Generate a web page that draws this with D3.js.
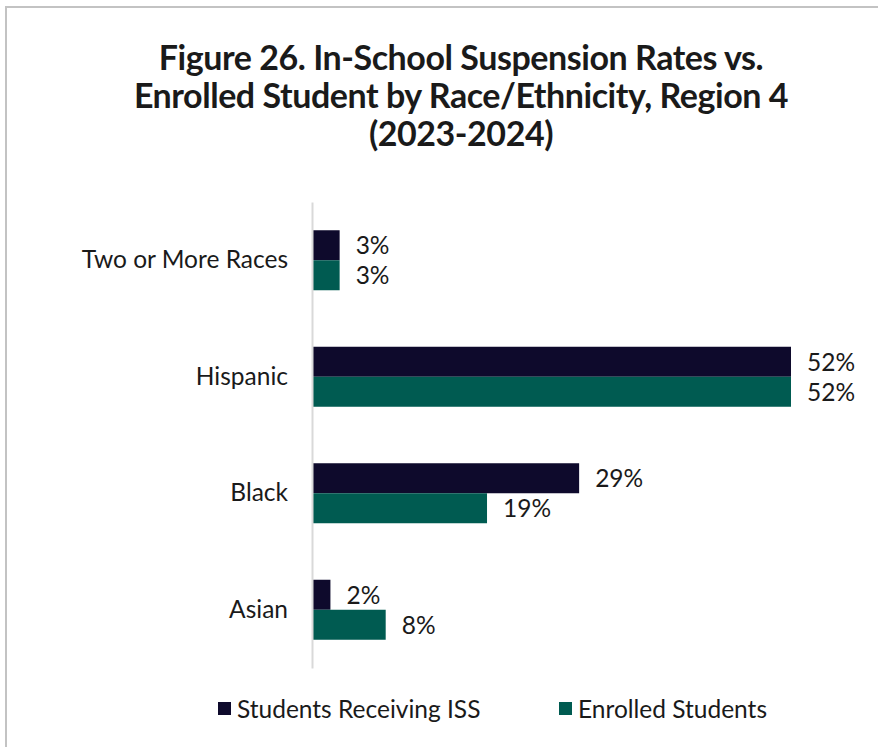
<!DOCTYPE html>
<html>
<head>
<meta charset="utf-8">
<script src="https://cdn.jsdelivr.net/npm/d3@7"></script>
<style>
  html, body { margin: 0; padding: 0; background: #fff; }
  svg { display: block; }
  text { font-family: Lato, "Open Sans", sans-serif; fill: #1a1a1a; }
</style>
</head>
<body>
<svg id="chart" width="878" height="747"></svg>
<script>
// Race/ethnicity groups, top to bottom
const categories = ["Two or More Races", "Hispanic", "Black", "Asian"];
// Share of students receiving in-school suspension (%)
const issValues = [3, 52, 29, 2];
// Share of enrolled students (%)
const enrolledValues = [3, 52, 19, 8];
const seriesNames = ["Students Receiving ISS", "Enrolled Students"];
const seriesColors = ["#0e0a2c", "#005b51"];
const titleLines = [
  "Figure 26. In-School Suspension Rates vs.",
  "Enrolled Student by Race/Ethnicity, Region 4",
  "(2023-2024)"
];

const bodySize = 24.5;

const svg = d3.select("#chart");

// Outer frame (top and left edges visible)
svg.append("path")
  .attr("d", "M6,760 L6,7 L880,7")
  .attr("fill", "none")
  .attr("stroke", "#c3c3c3")
  .attr("stroke-width", 2);

// Title
svg.append("g")
  .selectAll("text")
  .data(titleLines)
  .join("text")
  .attr("x", 461)
  .attr("y", (d, i) => 70 + i * 38)
  .attr("text-anchor", "middle")
  .attr("font-weight", 700)
  .attr("font-size", 34)
  .attr("letter-spacing", -0.45)
  .text(d => d);

const x = d3.scaleLinear().domain([0, 52]).range([312, 791]);
const y = d3.scaleBand()
  .domain(categories)
  .range([202, 668])
  .paddingInner(0.485)
  .paddingOuter(0.2425);
const ySub = d3.scaleBand()
  .domain([0, 1])
  .range([0, y.bandwidth()]);

const rows = categories.map((c, i) => ({
  cat: c,
  vals: [issValues[i], enrolledValues[i]]
}));

// Bars
const groups = svg.append("g")
  .selectAll("g")
  .data(rows)
  .join("g")
  .attr("transform", d => `translate(0,${y(d.cat)})`);

groups.selectAll("rect")
  .data(d => d.vals.map((v, k) => ({ v, k })))
  .join("rect")
  .attr("x", x(0))
  .attr("y", d => ySub(d.k))
  .attr("width", d => x(d.v) - x(0))
  .attr("height", ySub.bandwidth())
  .attr("fill", d => seriesColors[d.k]);

// Value labels
groups.selectAll("text")
  .data(d => d.vals.map((v, k) => ({ v, k })))
  .join("text")
  .attr("x", d => x(d.v) + 16)
  .attr("y", d => ySub(d.k) + ySub.bandwidth() / 2)
  .attr("dy", "0.36em")
  .attr("font-size", bodySize)
  .text(d => d.v + "%");

// Category axis
const axis = svg.append("g")
  .attr("transform", `translate(${x(0)},0)`)
  .call(d3.axisLeft(y).tickSize(0).tickPadding(24));
axis.select(".domain")
  .attr("stroke", "#d9d9d9")
  .attr("stroke-width", 2);
axis.selectAll("text")
  .attr("font-size", bodySize)
  .attr("font-family", "Lato, 'Open Sans', sans-serif")
  .attr("fill", "#1a1a1a");

// Legend
const legendX = [218, 559];
const legend = svg.append("g")
  .selectAll("g")
  .data(seriesNames)
  .join("g")
  .attr("transform", (d, i) => `translate(${legendX[i]},702)`);
legend.append("rect")
  .attr("width", 13)
  .attr("height", 13)
  .attr("fill", (d, i) => seriesColors[i]);
legend.append("text")
  .attr("x", 19)
  .attr("y", 7)
  .attr("dy", "0.36em")
  .attr("font-size", bodySize)
  .text(d => d);
</script>
</body>
</html>
